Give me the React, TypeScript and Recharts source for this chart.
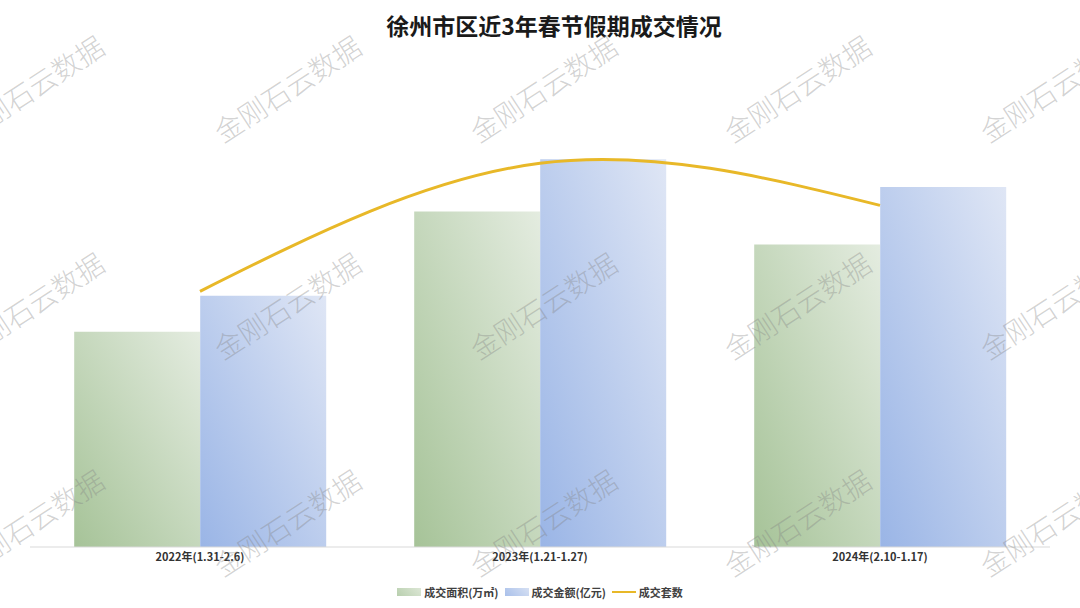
import React from "react";
import { Bar, ComposedChart, Legend, Line, XAxis, YAxis } from "recharts";

// 春节假期三年对比
const periods = ["2022年(1.31-2.6)", "2023年(1.21-1.27)", "2024年(2.10-1.17)"];
const areaValues = [4.42, 6.89, 6.21]; // 成交面积(万㎡)
const amountValues = [5.16, 7.96, 7.39]; // 成交金额(亿元)
const unitValues = [1050, 1576, 1403]; // 成交套数
const legendOrder = ["area", "amount", "units"];

const watermarkText = "金刚石云数据";
const watermarkCols = [30, 287, 543, 797, 1053];
const watermarkRows = [88, 305, 522];

const FONT = '"Noto Sans CJK SC", "Noto Sans", sans-serif';

const data = periods.map((name, i) => ({
  name,
  area: areaValues[i],
  amount: amountValues[i],
  units: unitValues[i]
}));

function LegendContent({ payload }: any) {
  const items = [...(payload || [])].sort((a: any, b: any) => legendOrder.indexOf(a.dataKey) - legendOrder.indexOf(b.dataKey));
  return (
    <div style={{ display: "flex", justifyContent: "center", alignItems: "center", gap: 6, fontFamily: FONT, fontSize: 11, fontWeight: 700, color: "#404040" }}>
      {items.map((item: any) => (
        <span key={item.value} style={{ display: "flex", alignItems: "center", gap: 3 }}>
          {item.dataKey === "units" ? (
            <span style={{ width: 24, height: 2.5, background: "#e8b828", display: "inline-block" }} />
          ) : (
            <span style={{ width: 24, height: 8, background: item.dataKey === "area" ? "linear-gradient(45deg, #b8cfae, #dde7d6)" : "linear-gradient(45deg, #a9c0ea, #d6e0f3)", display: "inline-block" }} />
          )}
          {item.value}
        </span>
      ))}
    </div>
  );
}

export default function App() {
  return (
    <div style={{ position: "absolute", left: 0, top: 0, width: 1080, height: 608, background: "#fff", overflow: "hidden" }}>
      <div style={{ position: "absolute", top: 8, width: 1080, textAlign: "center", fontFamily: FONT, fontSize: 23, fontWeight: 700, color: "#1a1a1a", paddingLeft: 28, boxSizing: "border-box" }}>
        徐州市区近3年春节假期成交情况
      </div>
      <ComposedChart width={1080} height={608} data={data} margin={{ top: 60, right: 30, left: 30, bottom: 8 }} barCategoryGap="13%" barGap={0}>
        <defs>
          <linearGradient id="gArea" x1="0" y1="1" x2="1" y2="0">
            <stop offset="0%" stopColor="#a6c398" />
            <stop offset="100%" stopColor="#e4ece0" />
          </linearGradient>
          <linearGradient id="gAmount" x1="0" y1="1" x2="1" y2="0">
            <stop offset="0%" stopColor="#9ab5e6" />
            <stop offset="100%" stopColor="#dfe6f5" />
          </linearGradient>
        </defs>
        <XAxis dataKey="name" height={37} tickLine={false} tickSize={4} axisLine={{ stroke: "#d9d9d9" }} tick={{ fontSize: 11, fontWeight: 700, fill: "#333", fontFamily: FONT }} />
        <YAxis yAxisId="left" hide domain={[0, 10]} />
        <YAxis yAxisId="right" hide orientation="right" domain={[0, 2000]} />
        <Legend verticalAlign="bottom" content={<LegendContent />} />
        <Bar yAxisId="left" dataKey="area" name="成交面积(万㎡)" fill="url(#gArea)" isAnimationActive={false} />
        <Bar yAxisId="left" dataKey="amount" name="成交金额(亿元)" fill="url(#gAmount)" isAnimationActive={false} />
        <Line yAxisId="right" dataKey="units" name="成交套数" type="natural" stroke="#e8b828" strokeWidth={3} dot={false} isAnimationActive={false} />
      </ComposedChart>
      <div style={{ position: "absolute", left: 0, top: 0, width: 1080, height: 608, pointerEvents: "none" }}>
        {watermarkRows.map((cy) =>
          watermarkCols.map((cx) => (
            <span
              key={`${cx}-${cy}`}
              style={{ position: "absolute", left: cx, top: cy, transform: "translate(-50%, -50%) rotate(-33deg)", fontFamily: FONT, fontSize: 28, fontWeight: 300, color: "rgba(130,130,130,0.36)", whiteSpace: "nowrap" }}
            >
              {watermarkText}
            </span>
          ))
        )}
      </div>
    </div>
  );
}
